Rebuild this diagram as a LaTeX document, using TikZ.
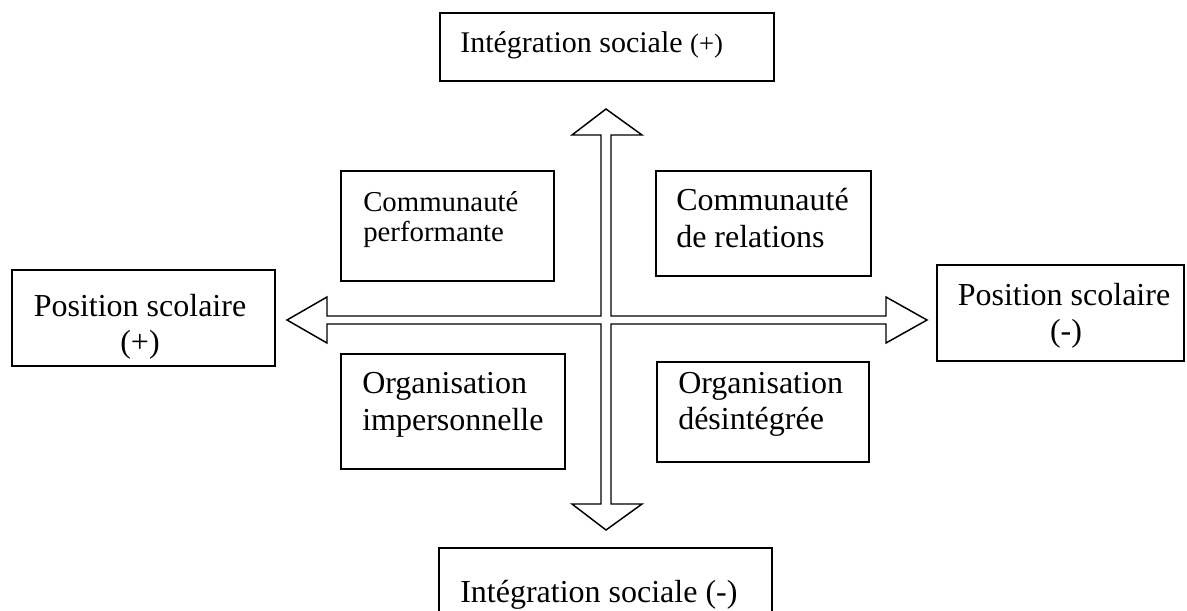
\documentclass[tikz,border=0pt]{standalone}
\usepackage{fontspec}
\setmainfont{Liberation Serif}
\usetikzlibrary{fit}
\begin{document}
\begin{tikzpicture}[x=0.75pt,y=-0.75pt,
  box/.style={draw, line width=1.1pt, inner sep=0pt},
  lbl/.style={inner sep=0pt, font=\fontsize{24}{28}\selectfont},
  lblm/.style={inner sep=0pt, font=\fontsize{22.5}{26}\selectfont},
  lbls/.style={inner sep=0pt, font=\fontsize{21.6}{24}\selectfont},
  cross/.style={draw, line width=1.1pt, line join=miter, fill=white}]
\useasboundingbox (0,0) rectangle (1187,610);
% outer boxes
\node[box, fit={(440,13) (774,81)}] (top) {};
\node[box, fit={(439,548) (772,640)}] (bot) {};
\node[box, fit={(12,270) (275,366)}] (left) {};
\node[box, fit={(937,265) (1184,361)}] (right) {};
% quadrant boxes
\node[box, fit={(341,171) (554,281)}] (tl) {};
\node[box, fit={(656,171) (871,276)}] (tr) {};
\node[box, fit={(341,354) (565,469)}] (bl) {};
\node[box, fit={(657,362) (869,462)}] (br) {};
% labels
\node[lblm, anchor=base west] (topt) at (460,53) {Intégration sociale {\fontsize{20}{24}\selectfont(+)}};
\node[lbl, anchor=base west] (bott) at (460,602) {Intégration sociale (-)};
\node[lbl, anchor=base] (left1) at (140,316) {Position scolaire};
\node[lbl, anchor=base] (left2) at (140,352) {(+)};
\node[lbl, anchor=base] (right1) at (1064,305) {Position scolaire};
\node[lbl, anchor=base] (right2) at (1066,341) {(-)};
\node[lbls, anchor=base west] (tl1) at (363,211) {Communauté};
\node[lbls, anchor=base west] (tl2) at (363,241) {performante};
\node[lbl, anchor=base west] (tr1) at (676,210) {Communauté};
\node[lbl, anchor=base west] (tr2) at (676,247) {de relations};
\node[lbl, anchor=base west] (bl1) at (362,393) {Organisation};
\node[lbl, anchor=base west] (bl2) at (362,430) {impersonnelle};
\node[lbl, anchor=base west] (br1) at (678,393) {Organisation};
\node[lbl, anchor=base west] (br2) at (678,429) {désintégrée};
% cross of four block arrows
\coordinate (c) at (606,320);
\draw[cross] (606,109) -- (642,135) -- (611,135) -- (611,316) -- (886,316) -- (886,297)
  -- (927,320) -- (886,343) -- (886,324) -- (611,324) -- (611,504) -- (642,504)
  -- (606,530) -- (572,504) -- (601,504) -- (601,324) -- (327,324) -- (327,343)
  -- (287,320) -- (327,297) -- (327,316) -- (601,316) -- (601,135) -- (572,135) -- cycle;
\end{tikzpicture}
\end{document}
